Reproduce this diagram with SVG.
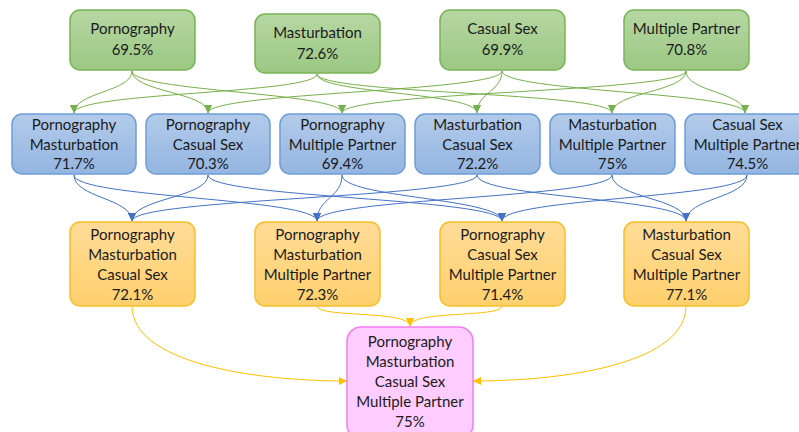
<svg xmlns="http://www.w3.org/2000/svg" width="799" height="432" viewBox="0 0 799 432">
<defs>
<linearGradient id="gG" x1="0" y1="0" x2="0" y2="1"><stop offset="0" stop-color="#b6d7a3"/><stop offset="1" stop-color="#9cc883"/></linearGradient>
<linearGradient id="gB" x1="0" y1="0" x2="0" y2="1"><stop offset="0" stop-color="#b3cbea"/><stop offset="1" stop-color="#93b5e1"/></linearGradient>
<linearGradient id="gO" x1="0" y1="0" x2="0" y2="1"><stop offset="0" stop-color="#ffdc98"/><stop offset="1" stop-color="#ffd06c"/></linearGradient>
<marker id="mG" markerUnits="userSpaceOnUse" markerWidth="10" markerHeight="10" refX="8" refY="4" orient="auto"><path d="M0,0 L8,4 L0,8 z" fill="#77b04d"/></marker>
<marker id="mB" markerUnits="userSpaceOnUse" markerWidth="10" markerHeight="10" refX="8" refY="4" orient="auto"><path d="M0,0 L8,4 L0,8 z" fill="#4472c4"/></marker>
<marker id="mO" markerUnits="userSpaceOnUse" markerWidth="10" markerHeight="10" refX="8" refY="4" orient="auto"><path d="M0,0 L8,4 L0,8 z" fill="#ffc000"/></marker>
</defs>
<style>
text{font-family:Lato,"Liberation Sans",sans-serif;font-size:15px;fill:#1a1a1a;text-anchor:middle}
.g{fill:url(#gG);stroke:#79b455;stroke-width:1.5}
.b{fill:url(#gB);stroke:#6d9dd6;stroke-width:1.5}
.o{fill:url(#gO);stroke:#f8bf2a;stroke-width:1.5}
.p{fill:#ffccff;stroke:#f27cf2;stroke-width:1.5}
.cg{fill:none;stroke:#77b04d;stroke-width:1;marker-end:url(#mG)}
.cb{fill:none;stroke:#4472c4;stroke-width:1;marker-end:url(#mB)}
.co{fill:none;stroke:#ffc000;stroke-width:1;marker-end:url(#mO)}
</style>
<rect width="799" height="432" fill="#ffffff"/>
<g id="connectors">
<path class="cg" d="M132,71 C132,92 74,92 74,113"/>
<path class="cg" d="M132,71 C132,92 208,92 208,113"/>
<path class="cg" d="M132,71 C132,92 342,92 342,113"/>
<path class="cg" d="M317,74 C317,94 74,92 74,113"/>
<path class="cg" d="M317,74 C317,94 477,92 477,113"/>
<path class="cg" d="M317,74 C317,94 612,92 612,113"/>
<path class="cg" d="M502,71 C502,92 208,92 208,113"/>
<path class="cg" d="M502,71 C502,92 477,92 477,113"/>
<path class="cg" d="M502,71 C502,92 745,92 745,113"/>
<path class="cg" d="M686,71 C686,92 342,92 342,113"/>
<path class="cg" d="M686,71 C686,92 612,92 612,113"/>
<path class="cg" d="M686,71 C686,92 745,92 745,113"/>
<path class="cb" d="M74,175 C74,198 132,198 132,221"/>
<path class="cb" d="M208,175 C208,198 132,198 132,221"/>
<path class="cb" d="M477,175 C477,198 132,198 132,221"/>
<path class="cb" d="M74,175 C74,198 317,198 317,221"/>
<path class="cb" d="M342,175 C342,198 317,198 317,221"/>
<path class="cb" d="M612,175 C612,198 317,198 317,221"/>
<path class="cb" d="M208,175 C208,198 502,198 502,221"/>
<path class="cb" d="M342,175 C342,198 502,198 502,221"/>
<path class="cb" d="M747,175 C747,198 502,198 502,221"/>
<path class="cb" d="M477,175 C477,198 686,198 686,221"/>
<path class="cb" d="M612,175 C612,198 686,198 686,221"/>
<path class="cb" d="M747,175 C747,198 686,198 686,221"/>
<path class="co" d="M317,306 C317,318 410,310 410,326"/>
<path class="co" d="M502,306 C502,318 410,310 410,326"/>
<path class="co" d="M132,306 C132,362 250,381 347,381"/>
<path class="co" d="M686,306 C686,362 570,381 473,381"/>
</g>
<g id="n-porn"><rect class="g" x="70" y="10" width="125" height="60" rx="10"/><text x="132.5" y="34">Pornography</text><text x="132.5" y="55">69.5%</text></g>
<g id="n-mast"><rect class="g" x="255" y="14" width="125" height="59" rx="10"/><text x="317.5" y="38">Masturbation</text><text x="317.5" y="59">72.6%</text></g>
<g id="n-cs"><rect class="g" x="440" y="10" width="125" height="60" rx="10"/><text x="502.5" y="34">Casual Sex</text><text x="502.5" y="55">69.9%</text></g>
<g id="n-mp"><rect class="g" x="624" y="10" width="125" height="60" rx="10"/><text x="686.5" y="34">Multiple Partner</text><text x="686.5" y="55">70.8%</text></g>
<g id="n-pm"><rect class="b" x="12" y="114" width="124" height="60" rx="10"/><text x="74" y="130">Pornography</text><text x="74" y="149.5">Masturbation</text><text x="74" y="169">71.7%</text></g>
<g id="n-pcs"><rect class="b" x="146" y="114" width="124" height="60" rx="10"/><text x="208" y="130">Pornography</text><text x="208" y="149.5">Casual Sex</text><text x="208" y="169">70.3%</text></g>
<g id="n-pmp"><rect class="b" x="280" y="114" width="125" height="60" rx="10"/><text x="342.5" y="130">Pornography</text><text x="342.5" y="149.5">Multiple Partner</text><text x="342.5" y="169">69.4%</text></g>
<g id="n-mcs"><rect class="b" x="415" y="114" width="125" height="60" rx="10"/><text x="477.5" y="130">Masturbation</text><text x="477.5" y="149.5">Casual Sex</text><text x="477.5" y="169">72.2%</text></g>
<g id="n-mmp"><rect class="b" x="550" y="114" width="125" height="60" rx="10"/><text x="612.5" y="130">Masturbation</text><text x="612.5" y="149.5">Multiple Partner</text><text x="612.5" y="169">75%</text></g>
<g id="n-csmp"><rect class="b" x="685" y="114" width="125" height="60" rx="10"/><text x="747.5" y="130">Casual Sex</text><text x="747.5" y="149.5">Multiple Partner</text><text x="747.5" y="169">74.5%</text></g>
<g id="n-pmcs"><rect class="o" x="70" y="222" width="125" height="84" rx="10"/><text x="132.5" y="240">Pornography</text><text x="132.5" y="260">Masturbation</text><text x="132.5" y="280">Casual Sex</text><text x="132.5" y="300">72.1%</text></g>
<g id="n-pmmp"><rect class="o" x="255" y="222" width="125" height="84" rx="10"/><text x="317.5" y="240">Pornography</text><text x="317.5" y="260">Masturbation</text><text x="317.5" y="280">Multiple Partner</text><text x="317.5" y="300">72.3%</text></g>
<g id="n-pcsmp"><rect class="o" x="440" y="222" width="125" height="84" rx="10"/><text x="502.5" y="240">Pornography</text><text x="502.5" y="260">Casual Sex</text><text x="502.5" y="280">Multiple Partner</text><text x="502.5" y="300">71.4%</text></g>
<g id="n-mcsmp"><rect class="o" x="624" y="222" width="125" height="84" rx="10"/><text x="686.5" y="240">Masturbation</text><text x="686.5" y="260">Casual Sex</text><text x="686.5" y="280">Multiple Partner</text><text x="686.5" y="300">77.1%</text></g>
<g id="n-all"><rect class="p" x="347" y="327" width="126" height="112" rx="14"/><text x="410" y="347">Pornography</text><text x="410" y="367">Masturbation</text><text x="410" y="387">Casual Sex</text><text x="410" y="407">Multiple Partner</text><text x="410" y="427">75%</text></g>
</svg>
